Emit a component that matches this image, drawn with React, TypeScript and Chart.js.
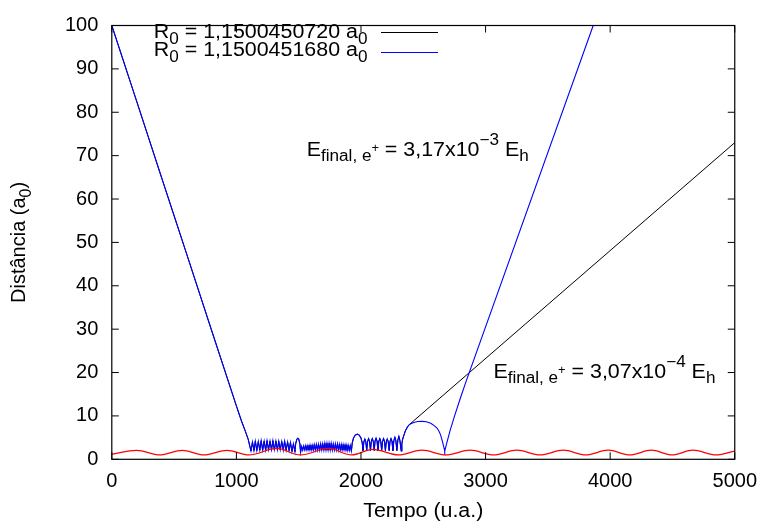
import React, { useEffect, useRef } from "react";
import { Chart, registerables } from "chart.js";

Chart.register(...registerables);

const FONT_FAMILY = '"Liberation Sans", Arial, Helvetica, sans-serif';

// Axes
const timeTicks = [0, 1000, 2000, 3000, 4000, 5000];
const distTicks = [0, 10, 20, 30, 40, 50, 60, 70, 80, 90, 100];

// Legend: initial separation of each run
const initialR = ["1,1500450720", "1,1500451680"];
// Final positron energies (mantissa, exponent)
const energyEscape = ["3,17", "−3"];
const energySlow = ["3,07", "−4"];

type Pt = [number, number];

// Incoming positron, straight approach
const incoming: Pt[] = [
  [0, 100], [200, 82.5], [400, 64.9], [600, 47.4], [800, 29.8], [1000, 12.3],
  [1040, 8.9], [1070, 6.6], [1095, 4.6], [1108, 3.0], [1117, 1.9],
];

// First trapped stage, fast bounces
const trappedA: Pt[] = [
  [1129, 4.0], [1141, 2.0], [1152, 4.2], [1164, 2.0], [1176, 4.1], [1188, 2.1],
  [1199, 4.3], [1211, 2.1], [1223, 4.2], [1235, 2.1], [1246, 4.3], [1258, 2.2],
  [1270, 4.2], [1282, 2.2], [1293, 4.3], [1305, 2.2], [1317, 4.2], [1329, 2.2],
  [1340, 4.2], [1352, 2.2], [1364, 4.1], [1376, 2.1], [1387, 4.2], [1399, 2.1],
  [1411, 4.0], [1423, 2.0], [1434, 3.9], [1446, 1.8], [1458, 3.6], [1470, 1.7],
  [1476, 3.6], [1485, 4.6], [1493, 4.9], [1501, 4.6], [1510, 3.5], [1515, 1.6],
];

// Second trapped stage, denser bounces
const trappedB: Pt[] = [
  [1523, 3.0], [1532, 2.1], [1540, 3.1], [1549, 2.1], [1557, 3.2], [1566, 2.1],
  [1574, 3.2], [1583, 2.1], [1591, 3.3], [1600, 2.1], [1608, 3.3], [1617, 2.1],
  [1625, 3.4], [1634, 2.1], [1642, 3.5], [1651, 2.1], [1659, 3.5], [1668, 2.1],
  [1676, 3.6], [1685, 2.1], [1693, 3.6], [1702, 2.1], [1710, 3.7], [1719, 2.1],
  [1727, 3.7], [1736, 2.1], [1744, 3.7], [1753, 2.1], [1761, 3.7], [1770, 2.1],
  [1778, 3.6], [1787, 2.1], [1795, 3.6], [1804, 2.1], [1812, 3.6], [1821, 2.1],
  [1829, 3.5], [1838, 2.1], [1846, 3.5], [1855, 2.1], [1863, 3.4], [1872, 2.1],
  [1880, 3.4], [1889, 2.0], [1897, 3.3], [1906, 2.0], [1914, 3.2], [1923, 1.9],
];

// Wider excursion followed by the third stage
const trappedC: Pt[] = [
  [1930, 3.8], [1940, 4.9], [1955, 5.6], [1970, 5.8], [1985, 5.6], [2000, 4.9], [2010, 3.8], [2016, 2.0],
  [2023, 4.0], [2031, 4.7], [2039, 4.0], [2046, 2.0],
  [2053, 4.1], [2061, 4.8], [2069, 4.1], [2076, 2.0],
  [2083, 4.1], [2091, 4.8], [2099, 4.1], [2106, 2.0],
  [2113, 4.2], [2121, 4.9], [2129, 4.2], [2136, 2.0],
  [2143, 4.1], [2151, 4.8], [2159, 4.1], [2166, 2.0],
  [2173, 4.1], [2181, 4.8], [2189, 4.1], [2196, 2.0],
  [2203, 4.0], [2211, 4.7], [2219, 4.0], [2226, 2.0],
  [2233, 4.1], [2241, 4.8], [2249, 4.1], [2256, 2.0],
  [2264, 4.3], [2272, 5.1], [2280, 4.3], [2288, 2.0],
  [2296, 4.4], [2304, 5.3], [2312, 4.4], [2323, 1.9],
];

// Start of the last arch, common to both runs
const archStart: Pt[] = [
  [2328, 3.6], [2335, 4.7], [2344, 5.5], [2357, 6.6], [2370, 7.3], [2384, 7.9],
];

// Slower run: positron bounces once more before leaving
const blueArch: Pt[] = [
  [2400, 8.2], [2424, 8.5], [2455, 8.7], [2491, 8.75], [2525, 8.65], [2560, 8.3],
  [2590, 7.7], [2610, 7.2], [2624, 6.6], [2638, 5.7], [2651, 4.4], [2660, 3.4],
  [2667, 2.6], [2672, 1.9],
];
const blueEscape: Pt[] = [
  [2690, 3.9], [2715, 6.6], [2750, 9.9], [2800, 14.3], [2843, 17.9], [3864, 100],
];

// Faster run: positron leaves directly
const blackEscape: Pt[] = [[5000, 73]];

// Internuclear motion
const redWave: Pt[] = [
  [0, 1.2], [200, 2.08], [384, 1.0], [565, 2.08], [739, 1.0], [925, 2.08],
  [1099, 1.0], [1325, 2.5], [1512, 1.0], [1739, 2.5], [1925, 1.0], [2096, 2.3],
  [2300, 1.0], [2491, 2.1], [2680, 1.0], [2877, 2.1], [3064, 1.0], [3251, 2.1],
  [3437, 1.0], [3624, 2.1], [3804, 1.0], [3984, 2.1], [4157, 1.0], [4331, 2.1],
  [4497, 1.0], [4664, 2.1], [4850, 1.0], [5000, 1.9],
];

const shared: Pt[] = [...incoming, ...trappedA, ...trappedB, ...trappedC, ...archStart];
const bluePath: Pt[] = [...shared, ...blueArch, ...blueEscape];
const blackPath: Pt[] = [...shared, ...blackEscape];

const toXY = (pts: Pt[]) => pts.map(([x, y]) => ({ x, y }));

type Run = [string, number, number]; // text, font size, baseline shift

const fontOf = (size: number) => `${size}px ${FONT_FAMILY}`;
const MAIN = 20;
const SUB = 16;
const WIDEN = 1.07; // horizontal proportion of the lettering

function richWidth(ctx: CanvasRenderingContext2D, runs: Run[]) {
  let w = 0;
  for (const [t, s] of runs) {
    ctx.font = fontOf(s);
    w += ctx.measureText(t).width * WIDEN;
  }
  return w;
}

function drawRich(ctx: CanvasRenderingContext2D, runs: Run[], x: number, y: number, align: "left" | "right" | "center") {
  const w = richWidth(ctx, runs);
  let cx = align === "right" ? x - w : align === "center" ? x - w / 2 : x;
  ctx.textAlign = "left";
  ctx.textBaseline = "alphabetic";
  for (const [t, s, dy] of runs) {
    ctx.font = fontOf(s);
    ctx.save();
    ctx.translate(cx, y + dy);
    ctx.scale(WIDEN, 1);
    ctx.fillText(t, 0, 0);
    ctx.restore();
    cx += ctx.measureText(t).width * WIDEN;
  }
}

const framePlugin = {
  id: "frame",
  afterDraw(chart: any) {
    const ctx: CanvasRenderingContext2D = chart.ctx;
    const { left, right, top, bottom } = chart.chartArea;
    const xs = chart.scales.x;
    const ys = chart.scales.y;
    ctx.save();
    ctx.strokeStyle = "#000";
    ctx.lineWidth = 1.2;
    ctx.strokeRect(left, top, right - left, bottom - top);

    // inward tick marks, mirrored on the opposite border
    const tl = 7;
    ctx.lineWidth = 1;
    ctx.beginPath();
    for (const v of timeTicks) {
      const px = xs.getPixelForValue(v);
      ctx.moveTo(px, bottom);
      ctx.lineTo(px, bottom - tl);
      ctx.moveTo(px, top);
      ctx.lineTo(px, top + tl);
    }
    for (const v of distTicks) {
      const py = ys.getPixelForValue(v);
      ctx.moveTo(left, py);
      ctx.lineTo(left + tl, py);
      ctx.moveTo(right, py);
      ctx.lineTo(right - tl, py);
    }
    ctx.stroke();

    ctx.fillStyle = "#000";
    // legend
    const legendColors = ["#000000", "#0000ff"];
    const legendBase = [37.5, 55.5];
    const sampleY = [32.5, 52.5];
    initialR.forEach((r, i) => {
      drawRich(ctx, [["R", MAIN, 0], ["0", SUB, 6], [` = ${r} a`, MAIN, 0], ["0", SUB, 6]], 367.4, legendBase[i], "right");
      ctx.strokeStyle = legendColors[i];
      ctx.lineWidth = 1;
      ctx.beginPath();
      ctx.moveTo(381, sampleY[i]);
      ctx.lineTo(438, sampleY[i]);
      ctx.stroke();
    });

    // energy annotations
    const energyRuns = (e: string[]): Run[] => [
      ["E", MAIN, 0], ["final, e", SUB, 5], ["+", 12, -4],
      [` = ${e[0]}x10`, MAIN, 0], [e[1], SUB, -11], [" E", MAIN, 0], ["h", SUB, 5],
    ];
    drawRich(ctx, energyRuns(energyEscape), 306.7, 156, "left");
    drawRich(ctx, energyRuns(energySlow), 493.4, 377.5, "left");

    // axis titles
    drawRich(ctx, [["Tempo (u.a.)", MAIN, 0]], (left + right) / 2, 517, "center");
    ctx.save();
    ctx.translate(25, (top + bottom) / 2);
    ctx.rotate(-Math.PI / 2);
    ctx.font = fontOf(MAIN);
    const parts: Run[] = [["Distância (a", MAIN, 0], ["0", SUB, 6], [")", MAIN, 0]];
    let w = 0;
    for (const [t, s] of parts) { ctx.font = fontOf(s); w += ctx.measureText(t).width; }
    let cx = -w / 2;
    for (const [t, s, dy] of parts) {
      ctx.font = fontOf(s);
      ctx.fillText(t, cx, dy);
      cx += ctx.measureText(t).width;
    }
    ctx.restore();
    ctx.restore();
  },
};

export default function App() {
  const canvasRef = useRef<HTMLCanvasElement | null>(null);

  useEffect(() => {
    const canvas = canvasRef.current;
    if (!canvas) return;
    const tickFont = { family: FONT_FAMILY, size: MAIN };
    const chart = new Chart(canvas, {
      type: "line",
      data: {
        datasets: [
          {
            label: "r",
            data: toXY(redWave),
            borderColor: "#ff0000",
            borderWidth: 1.2,
            pointRadius: 0,
            cubicInterpolationMode: "monotone",
            order: 0,
          },
          {
            label: "b",
            data: toXY(bluePath),
            borderColor: "#0000ff",
            borderWidth: 1.1,
            pointRadius: 0,
            tension: 0,
            order: 1,
          },
          {
            label: "k",
            data: toXY(blackPath),
            borderColor: "#000000",
            borderWidth: 1,
            pointRadius: 0,
            tension: 0,
            order: 2,
          },
        ],
      },
      options: {
        animation: false,
        responsive: false,
        devicePixelRatio: 1,
        layout: { padding: { left: 0, top: 15.3, right: 29.7, bottom: 0 } },
        plugins: { legend: { display: false }, tooltip: { enabled: false } },
        scales: {
          x: {
            type: "linear",
            min: 0,
            max: 5000,
            afterFit: (s: any) => {
              s.height = 70.7;
            },
            afterBuildTicks: (s: any) => {
              s.ticks = timeTicks.map((value) => ({ value }));
            },
            grid: { display: false, drawTicks: false },
            border: { display: false },
            ticks: {
              padding: 10,
              font: tickFont,
              color: "#000",
              maxRotation: 0,
              callback: (v: any) => String(v),
            },
          },
          y: {
            type: "linear",
            min: 0,
            max: 100,
            afterFit: (s: any) => {
              s.width = 111.8;
            },
            afterBuildTicks: (s: any) => {
              s.ticks = distTicks.map((value) => ({ value }));
            },
            grid: { display: false, drawTicks: false },
            border: { display: false },
            ticks: {
              padding: 13.5,
              font: tickFont,
              color: "#000",
              callback: (v: any) => String(v),
            },
          },
        },
      },
      plugins: [framePlugin],
    });
    return () => chart.destroy();
  }, []);

  return (
    <div style={{ position: "fixed", left: 0, top: 0, width: 767, height: 530, background: "#fff" }}>
      <canvas ref={canvasRef} width={767} height={530} style={{ display: "block" }} />
    </div>
  );
}
